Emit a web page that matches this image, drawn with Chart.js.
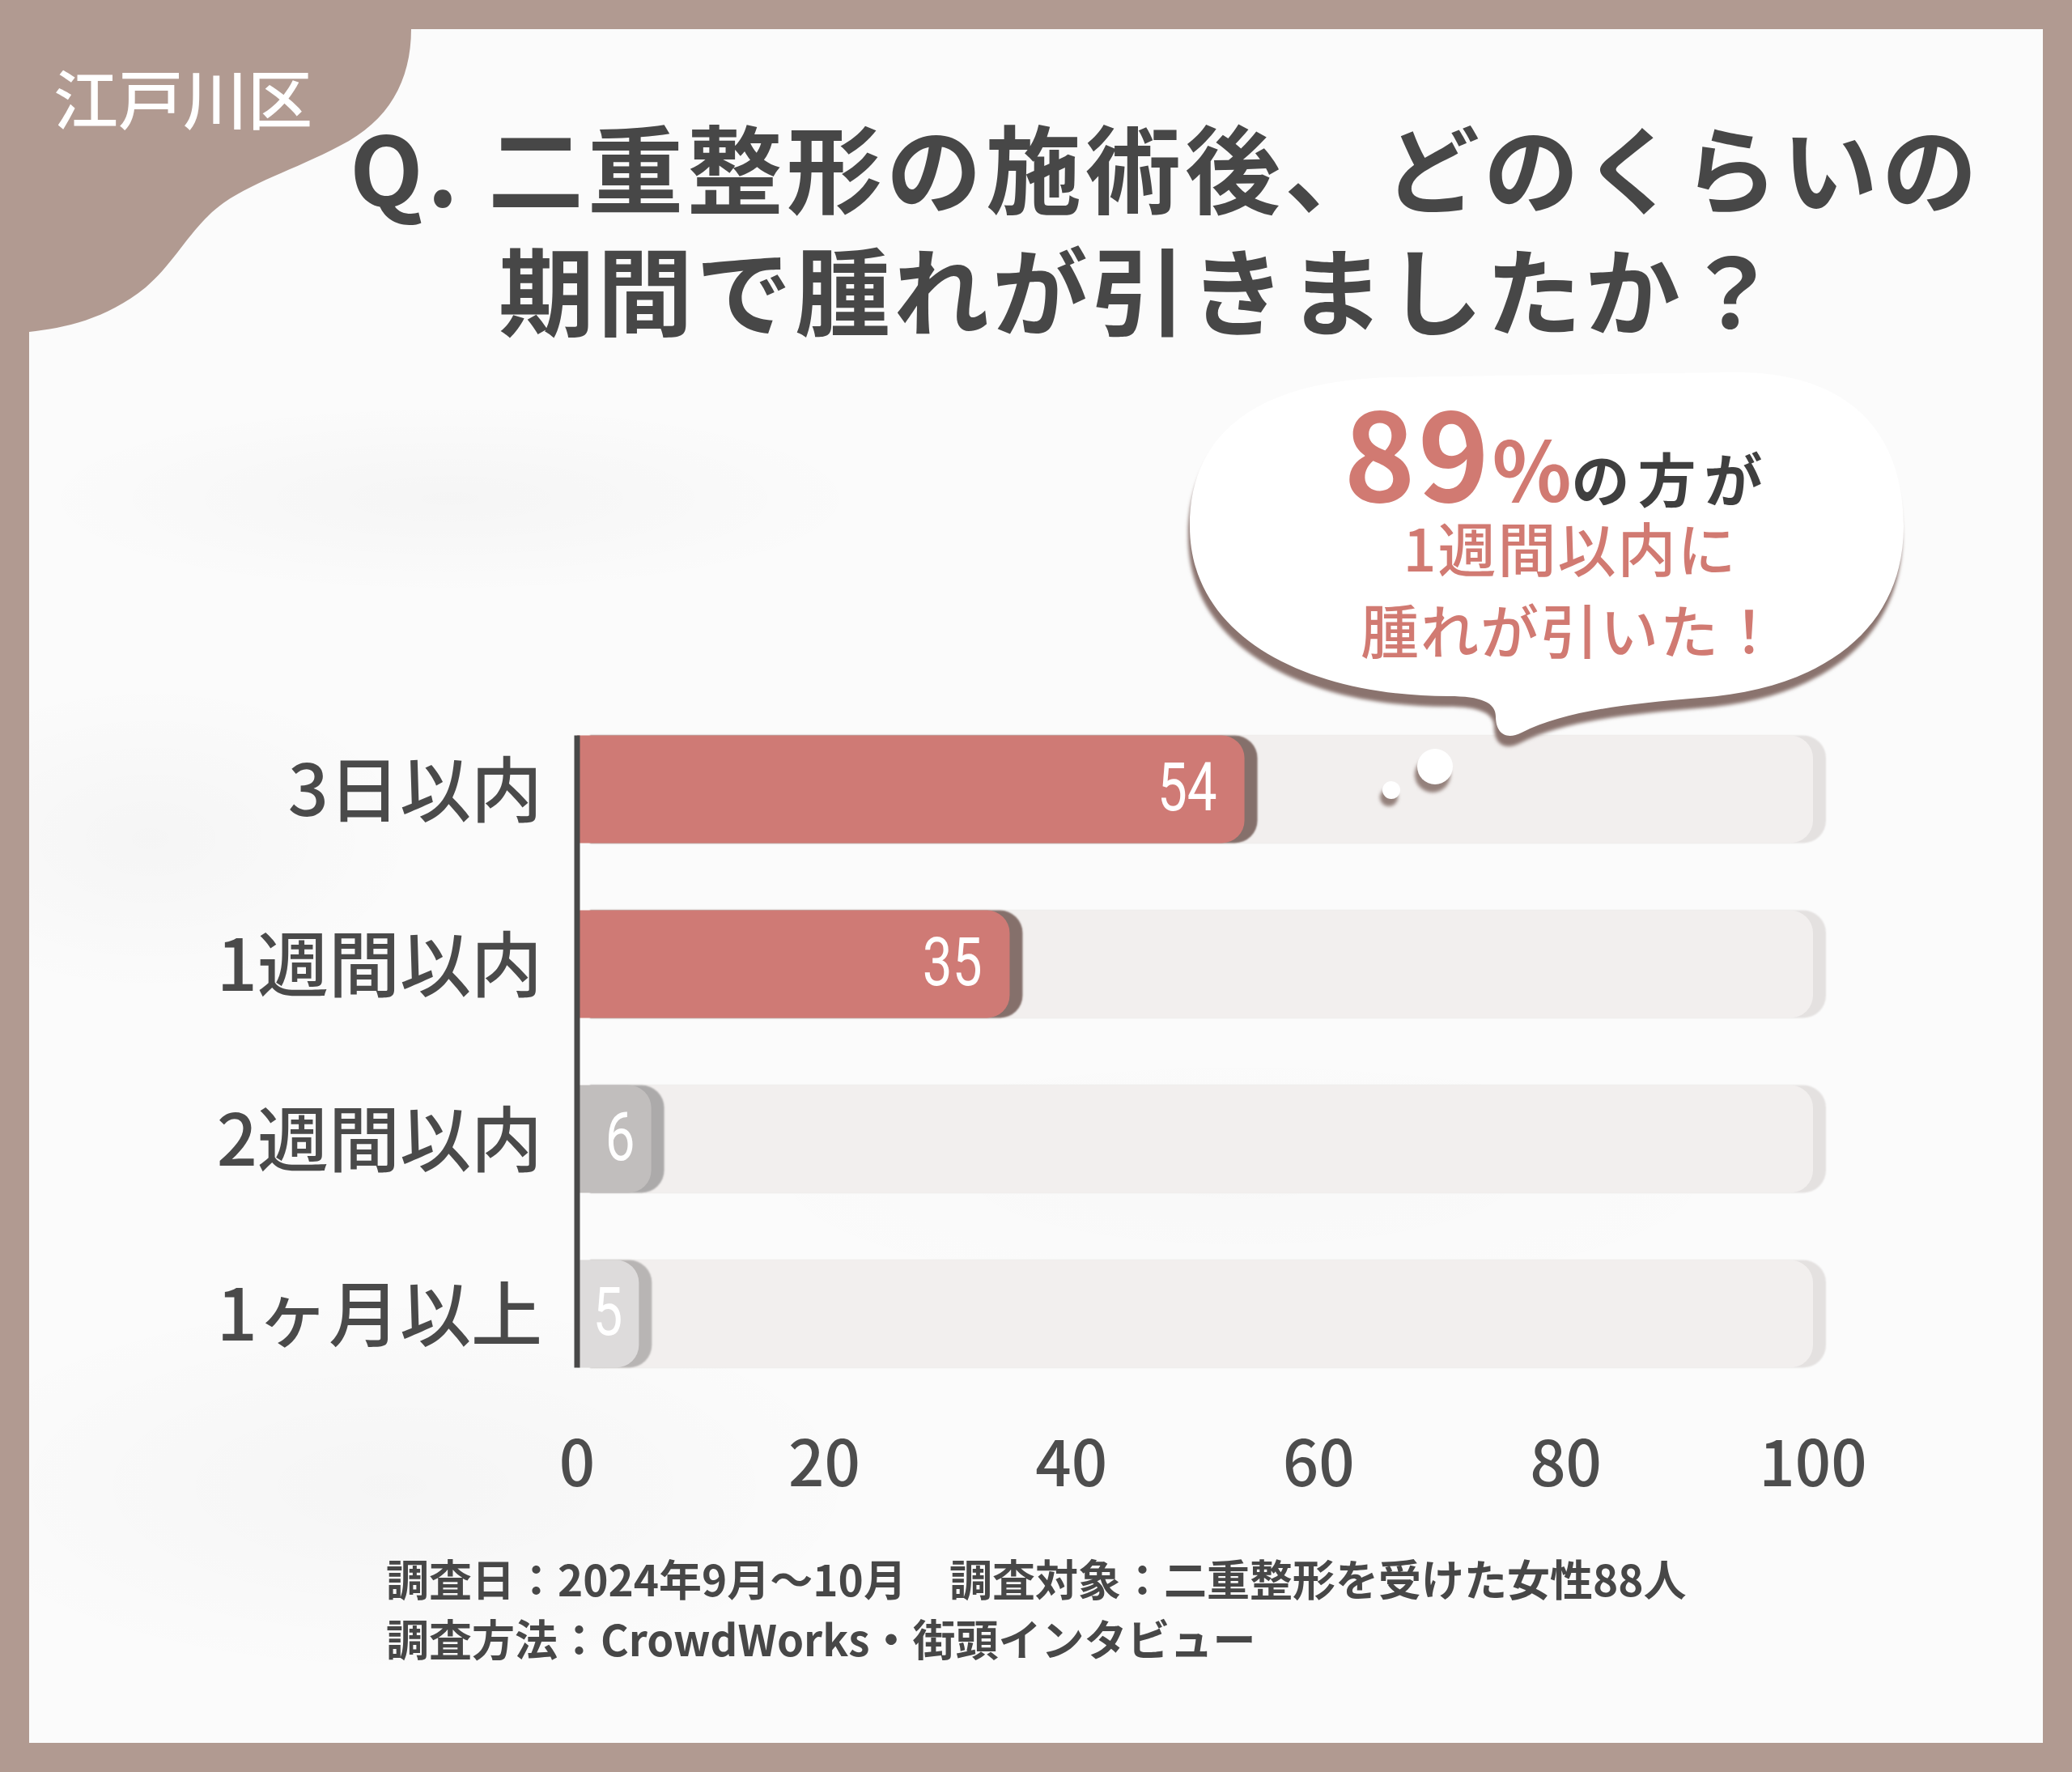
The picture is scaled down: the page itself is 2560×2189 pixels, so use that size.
<!DOCTYPE html>
<html lang="ja">
<head>
<meta charset="utf-8">
<title>二重整形の施術後、腫れが引いた期間</title>
<script src="https://cdn.jsdelivr.net/npm/chart.js@4.4.1/dist/chart.umd.min.js"></script>
<style>
  html, body { margin: 0; padding: 0; }
  body {
    width: 2560px; height: 2189px; position: relative; overflow: hidden;
    background: #b19a91;
    font-family: "Noto Sans CJK JP", "Noto Sans", sans-serif;
  }
  #panel {
    position: absolute; left: 36px; top: 36px; width: 2488px; height: 2117px;
    background:
      radial-gradient(ellipse 700px 160px at 520px 580px, rgba(0,0,0,0.022), rgba(0,0,0,0) 75%),
      radial-gradient(ellipse 450px 260px at 150px 1000px, rgba(0,0,0,0.025), rgba(0,0,0,0) 75%),
      radial-gradient(ellipse 800px 320px at 450px 1800px, rgba(0,0,0,0.025), rgba(0,0,0,0) 75%),
      radial-gradient(ellipse 900px 220px at 1500px 1420px, rgba(0,0,0,0.012), rgba(0,0,0,0) 75%),
      #fbfbfb;
  }
  svg.layer { position: absolute; left: 0; top: 0; }
  #ward {
    position: absolute; left: 66px; top: 68px; color: #ffffff;
    font-size: 80px; font-weight: 500; line-height: 100px; letter-spacing: 0px;
  }
  .title {
    position: absolute; width: 2400px; white-space: nowrap;
    text-align: center; color: #474747; font-weight: 700;
    font-size: 118px; line-height: 151px;
  }
  .t1 { left: 240px; top: 128px; letter-spacing: 5px; }
  .t2 { left: 209px; top: 279px; letter-spacing: 4px; }
  #chart { position: absolute; left: 0; top: 0; }
  #bubbleText { position: absolute; left: 1500px; width: 880px; top: 0; text-align: center; }
  .b1 { position: absolute; left: -16px; width: 100%; top: 470px; line-height: 170px; white-space: nowrap; }
  .big { font-size: 150px; font-weight: 700; color: #d17a72; letter-spacing: 3px; }
  .pct { font-size: 102px; font-weight: 700; color: #d17a72; }
  .dark { font-size: 72px; font-weight: 700; color: #3f3f3f; letter-spacing: 10px; }
  .b2, .b3 {
    position: absolute; left: 0; width: 100%; color: #d17a72;
    font-size: 72px; font-weight: 500; line-height: 90px; letter-spacing: 2px;
  }
  .b2 { top: 630px; }
  .b3 { top: 731px; }
  #note {
    position: absolute; left: 477px; top: 1912px; color: #474747;
    font-size: 53px; font-weight: 700; line-height: 74px; white-space: pre;
  }
</style>
</head>
<body>
<div id="panel"></div>

<svg class="layer" width="2560" height="2189" viewBox="0 0 2560 2189">
  <path d="M 36 36 L 508 36 C 508 100 480 150 420 180 C 360 212 300 228 262 262 C 230 292 212 328 180 355 C 130 395 80 405 36 410 Z" fill="#b19a91"/>
</svg>
<div id="ward">江戸川区</div>

<div class="title t1">Q. 二重整形の施術後、どのくらいの</div>
<div class="title t2">期間で腫れが引きましたか？</div>

<canvas id="chart" width="2560" height="2189"></canvas>

<svg class="layer" width="2560" height="2189" viewBox="0 0 2560 2189">
  <defs>
    <filter id="soft" x="-5%" y="-5%" width="110%" height="110%">
      <feGaussianBlur stdDeviation="2"/>
    </filter>
  </defs>
  <g filter="url(#soft)" fill="#8a736e">
    <path transform="translate(-2,13)" d="M 1470 650 C 1470 530 1560 470 1720 466 L 2140 460 C 2290 458 2352 540 2352 650 C 2352 770 2262 850 2100 862 C 2000 870 1930 880 1880 905 C 1860 915 1848 905 1848 885 C 1848 868 1830 860 1790 860 C 1620 860 1470 790 1470 650 Z"/>
    <circle cx="1770" cy="957" r="22" fill="#94817c"/>
    <circle cx="1716" cy="985" r="11" fill="#94817c"/>
  </g>
  <path fill="#ffffff" d="M 1470 650 C 1470 530 1560 470 1720 466 L 2140 460 C 2290 458 2352 540 2352 650 C 2352 770 2262 850 2100 862 C 2000 870 1930 880 1880 905 C 1860 915 1848 905 1848 885 C 1848 868 1830 860 1790 860 C 1620 860 1470 790 1470 650 Z"/>
  <circle cx="1773" cy="947" r="22" fill="#ffffff"/>
  <circle cx="1719" cy="976" r="11" fill="#ffffff"/>
</svg>
<div id="bubbleText">
  <div class="b1"><span class="big">89</span><span class="pct">%</span><span class="dark">の方が</span></div>
  <div class="b2">1週間以内に</div>
  <div class="b3">腫れが引いた！</div>
</div>

<div id="note">調査日：2024年9月〜10月　調査対象：二重整形を受けた女性88人
調査方法：CrowdWorks・街頭インタビュー</div>

<script>
// ---- data ----
const categories = ['3日以内', '1週間以内', '2週間以内', '1ヶ月以上'];
const responses = [54, 35, 6, 5];
const trackValues = [100, 100, 100, 100];
const xTicks = [0, 20, 40, 60, 80, 100];

// ---- styles ----
const barColors = ['#cf7a75', '#cf7a75', '#c1bebd', '#dddbdb'];
const barShadows = ['#85706b', '#85706b', '#acaaaa', '#b8b5b4'];
const trackColor = '#f2efee';
const trackShadow = '#e4e1e0';

/**
 * Draw bars with a hard shadow to the right, one colour per bar
 */
const shadowBars = {
    id: 'shadowBars',
    beforeDatasetDraw(chart, args) {
        const ctx = chart.ctx;
        const shadows = args.index === 0 ? barShadows : trackValues.map(() => trackShadow);
        ctx.save();
        args.meta.data.forEach((bar, i) => {
            ctx.shadowColor = shadows[i];
            ctx.shadowOffsetX = 16;
            ctx.shadowOffsetY = 0;
            ctx.shadowBlur = 2;
            bar.draw(ctx);
        });
        ctx.restore();
        return false;
    }
};

/**
 * Value labels and the vertical axis line
 */
const labelsAndAxis = {
    id: 'labelsAndAxis',
    afterDatasetsDraw(chart) {
        const ctx = chart.ctx;
        const valueMeta = chart.getDatasetMeta(0);
        const trackMeta = chart.getDatasetMeta(1);

        // value labels, narrow white digits at the bar end
        ctx.save();
        ctx.fillStyle = '#ffffff';
        ctx.font = '400 84px Roboto';
        ctx.textAlign = 'right';
        ctx.textBaseline = 'middle';
        valueMeta.data.forEach((bar, i) => {
            const gap = responses[i] < 10 ? 20 : 34;
            ctx.save();
            ctx.translate(bar.x - gap, bar.y + 5);
            ctx.scale(0.78, 1);
            ctx.fillText(String(responses[i]), 0, 0);
            ctx.restore();
        });
        ctx.restore();

        // axis line from first bar top to last bar bottom
        const first = trackMeta.data[0];
        const last = trackMeta.data[trackMeta.data.length - 1];
        const x0 = chart.scales.x.getPixelForValue(0);
        ctx.save();
        ctx.strokeStyle = '#484848';
        ctx.lineWidth = 7;
        ctx.beginPath();
        ctx.moveTo(x0, first.y - first.height / 2);
        ctx.lineTo(x0, last.y + last.height / 2);
        ctx.stroke();
        ctx.restore();
    }
};

new Chart(document.getElementById('chart'), {
    type: 'bar',
    data: {
        labels: categories,
        datasets: [
            {
                label: '回答数',
                data: responses,
                backgroundColor: barColors,
                borderRadius: 28,
                borderSkipped: 'start',
                barPercentage: 0.615,
                categoryPercentage: 1,
                grouped: false,
                order: 0
            },
            {
                label: 'track',
                data: trackValues,
                backgroundColor: trackColor,
                borderRadius: 28,
                borderSkipped: 'start',
                barPercentage: 0.615,
                categoryPercentage: 1,
                grouped: false,
                order: 1
            }
        ]
    },
    options: {
        indexAxis: 'y',
        responsive: false,
        devicePixelRatio: 1,
        animation: false,
        layout: { padding: { left: 0, right: 320, top: 867, bottom: 308 } },
        plugins: {
            legend: { display: false },
            tooltip: { enabled: false }
        },
        scales: {
            x: {
                min: xTicks[0],
                max: xTicks[xTicks.length - 1],
                afterBuildTicks(scale) {
                    scale.ticks = xTicks.map(v => ({ value: v }));
                },
                afterFit(scale) { scale.height = 150; },
                grid: { display: false, drawTicks: false },
                border: { display: false },
                ticks: {
                    padding: 29,
                    color: '#4d4d4d',
                    font: { family: '"Noto Sans CJK JP", sans-serif', size: 78, weight: '500' }
                }
            },
            y: {
                afterFit(scale) { scale.width = 713; },
                grid: { display: false, drawTicks: false },
                border: { display: false },
                ticks: {
                    padding: 43,
                    color: '#4a4a4a',
                    font: { family: '"Noto Sans CJK JP", sans-serif', size: 88, weight: '500' }
                }
            }
        }
    },
    plugins: [shadowBars, labelsAndAxis]
});
</script>
</body>
</html>
